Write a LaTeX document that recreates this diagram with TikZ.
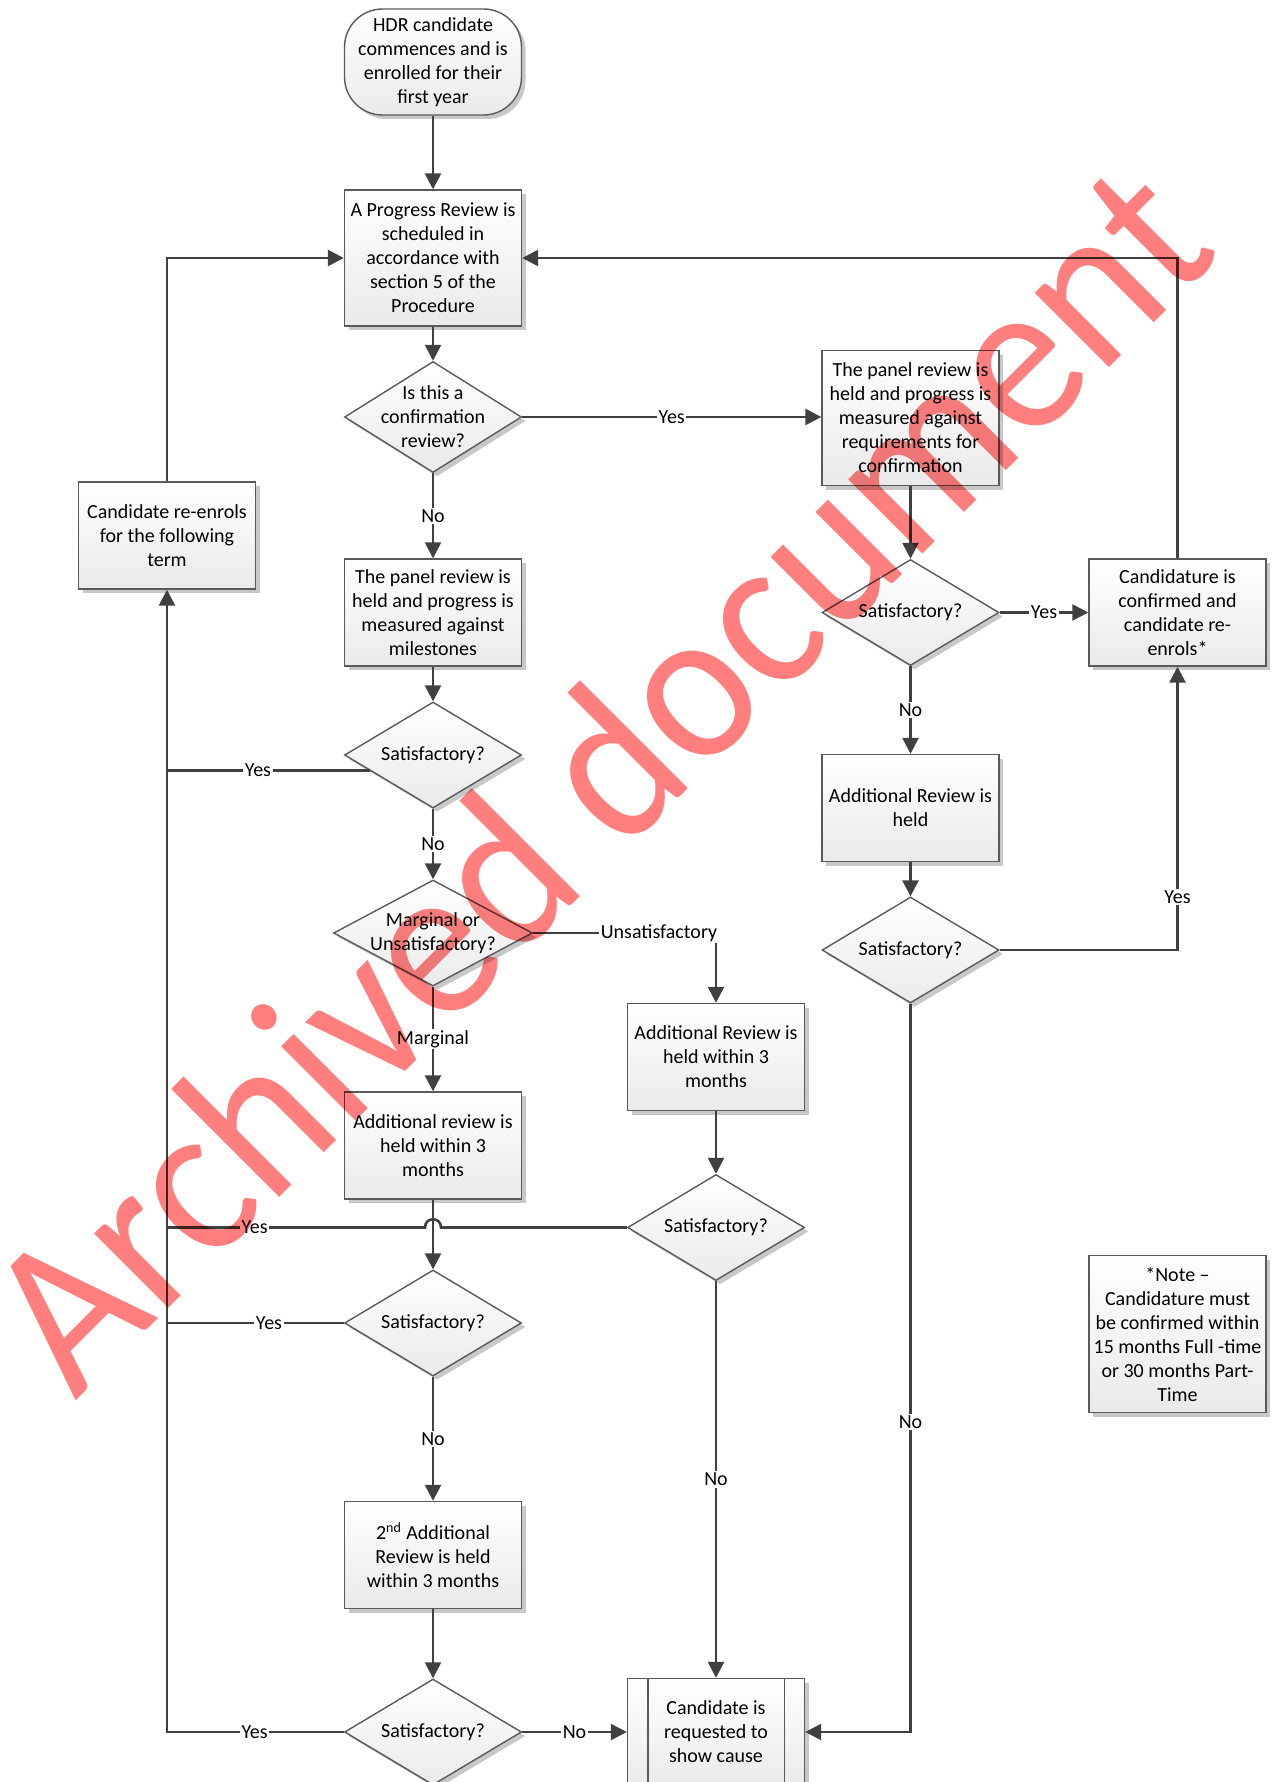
\documentclass[tikz,border=0pt]{standalone}
\usepackage{fontspec}
\setmainfont{Carlito}
\usetikzlibrary{arrows.meta,shapes.geometric,calc,shadows}
\definecolor{lnc}{HTML}{404040}
\definecolor{boxline}{HTML}{5A5A5A}
\definecolor{boxbot}{HTML}{EAEAEA}
\definecolor{shadowc}{HTML}{C8C8C8}
\definecolor{wmc}{HTML}{FF7F7F}
\tikzset{
  base/.style={draw=boxline, line width=0.7pt, top color=white, bottom color=boxbot,
    font=\fontsize{10}{12}\selectfont, align=center, inner sep=1pt,
    drop shadow={shadow xshift=2pt, shadow yshift=-2pt, fill=shadowc, opacity=1}},
  proc/.style={base, rectangle, minimum width=88.5pt, minimum height=53.5pt},
  term/.style={proc, rounded corners=19pt, minimum height=53pt},
  decb/.style={base, diamond, minimum width=88.5pt, minimum height=53pt, inner sep=0pt},
  dtext/.style={font=\fontsize{10}{12}\selectfont, align=center, inner sep=0pt},
  arr/.style={draw=lnc, line width=1.3pt, -{Triangle[length=8pt,width=8pt]}},
  ln/.style={draw=lnc, line width=1.3pt},
  lbl/.style={fill=white, inner sep=0.8pt, font=\fontsize{10}{12}\selectfont},
  wm/.style={text=wmc, font=\fontsize{110}{120}\selectfont, inner sep=0pt}
}
\begin{document}
\begin{tikzpicture}[x=0.5pt,y=-0.5pt]
\useasboundingbox (0,0) rectangle (1274,1782);
% nodes
\node[term] (start) at (433,62) {HDR candidate\\commences and is\\enrolled for their\\first year};
\node[proc, minimum height=68pt] (prog) at (433,258) {A Progress Review is\\scheduled in\\accordance with\\section 5 of the\\Procedure};
\node[decb, minimum height=55.5pt] (d1) at (433,417) {};
\node[dtext] (d1t) at (d1) {Is this a\\confirmation\\review?};
\node[proc, minimum height=67.5pt] (conf) at (910.5,418) {The panel review is\\held and progress is\\measured against\\requirements for\\confirmation};
\node[proc] (mile) at (433,612.5) {The panel review is\\held and progress is\\measured against\\milestones};
\node[decb] (s1) at (433,755) {};
\node[dtext] (s1t) at (s1) {Satisfactory?};
\node[decb, minimum width=99.5pt] (marg) at (433,933) {};
\node[dtext] (margt) at (marg) {Marginal or\\Unsatisfactory?};
\node[proc] (ladd) at (433,1145.5) {Additional review is\\held within 3\\months};
\node[decb] (s2) at (433,1323) {};
\node[dtext] (s2t) at (s2) {Satisfactory?};
\node[proc] (second) at (433,1555) {2\textsuperscript{nd} Additional\\Review is held\\within 3 months};
\node[decb] (s3) at (433,1732) {};
\node[dtext] (s3t) at (s3) {Satisfactory?};
\node[proc] (reenrol) at (167,535.5) {Candidate re-enrols\\for the following\\term};
\node[proc] (radd) at (716,1057) {Additional Review is\\held within 3\\months};
\node[decb] (rs1) at (716,1227.5) {};
\node[dtext] (rs1t) at (rs1) {Satisfactory?};
\node[proc] (show) at (716,1732) {Candidate is\\requested to\\show cause};
\draw[boxline, line width=0.7pt] ($(show.north west)+(21,0)$) -- ($(show.south west)+(21,0)$);
\draw[boxline, line width=0.7pt] ($(show.north east)+(-21,0)$) -- ($(show.south east)+(-21,0)$);
\node[decb] (cs) at (910.5,612.5) {};
\node[dtext] (cst) at (cs) {Satisfactory?};
\node[proc] (cand) at (1177.5,612.5) {Candidature is\\confirmed and\\candidate re-\\enrols*};
\node[proc] (held) at (910.5,808) {Additional Review is\\held};
\node[decb] (rs2) at (910.5,950) {};
\node[dtext] (rs2t) at (rs2) {Satisfactory?};
\node[proc, minimum height=78.5pt] (note) at (1177.5,1334) {*Note --\\Candidature must\\be confirmed within\\15 months Full -time\\or 30 months Part-\\Time};
% connectors
\draw[arr] (start) -- (prog);
\draw[arr] (prog) -- (d1);
\draw[arr] (d1.east) -- node[lbl]{Yes} (conf.west |- d1.east);
\draw[arr] (d1) -- node[lbl]{No} (mile);
\draw[arr] (mile) -- (s1);
\draw[arr] (s1) -- node[lbl]{No} (marg);
\draw[arr] (marg) -- node[lbl]{Marginal} (ladd);
\draw[arr] (ladd) -- (s2);
\draw[arr] (s2) -- node[lbl]{No} (second);
\draw[arr] (second) -- (s3);
\draw[arr] (s3) -- node[lbl]{No} (show);
\draw[arr] (marg.east) -| (radd.north);
\node[lbl] (lunsat) at (659,933) {Unsatisfactory};
\draw[arr] (radd) -- (rs1);
\draw[arr] (rs1) -- node[lbl]{No} (show);
\draw[arr] (conf) -- (cs);
\draw[arr] (cs) -- node[lbl]{Yes} (cand);
\draw[arr] (cs) -- node[lbl]{No} (held);
\draw[arr] (held) -- (rs2);
\draw[arr] (rs2.east) -| (cand.south);
\node[lbl] (lyesr) at (1177.5,897) {Yes};
\draw[arr] (rs2.south) |- (show.east);
\node[lbl] (lnor) at (910.5,1422) {No};
\draw[arr] (cand.north) |- (prog.east);
\draw[arr] (reenrol.north) |- (prog.west);
\draw[arr] (s3.west) -| (reenrol.south);
\node[lbl] (lyes3) at (254.6,1732) {Yes};
% yes joins to the spine
\coordinate (s1e) at ($(s1.west)!0.29!(s1.south)$);
\coordinate (j1) at (reenrol.south |- s1e);
\draw[ln] (s1e) -- (j1);
\node[lbl] (lyes1) at (258,770.5) {Yes};
\coordinate (j2) at (reenrol.south |- s2.west);
\draw[ln] (s2.west) -- (j2);
\node[lbl] (lyes2) at (269,1323) {Yes};
\coordinate (j3) at (reenrol.south |- rs1.west);
\draw[ln] (rs1.west) -- (441,1227.5) .. controls (441,1216.5) and (425,1216.5) .. (425,1227.5) -- (j3);
\node[lbl] (lyes4) at (254.6,1227.5) {Yes};
% watermark
\begin{scope}[blend mode=multiply]
\node[wm, rotate=45, xscale=0.93] (wmark) at (596,774) {Archived document};
\end{scope}
\end{tikzpicture}
\end{document}
